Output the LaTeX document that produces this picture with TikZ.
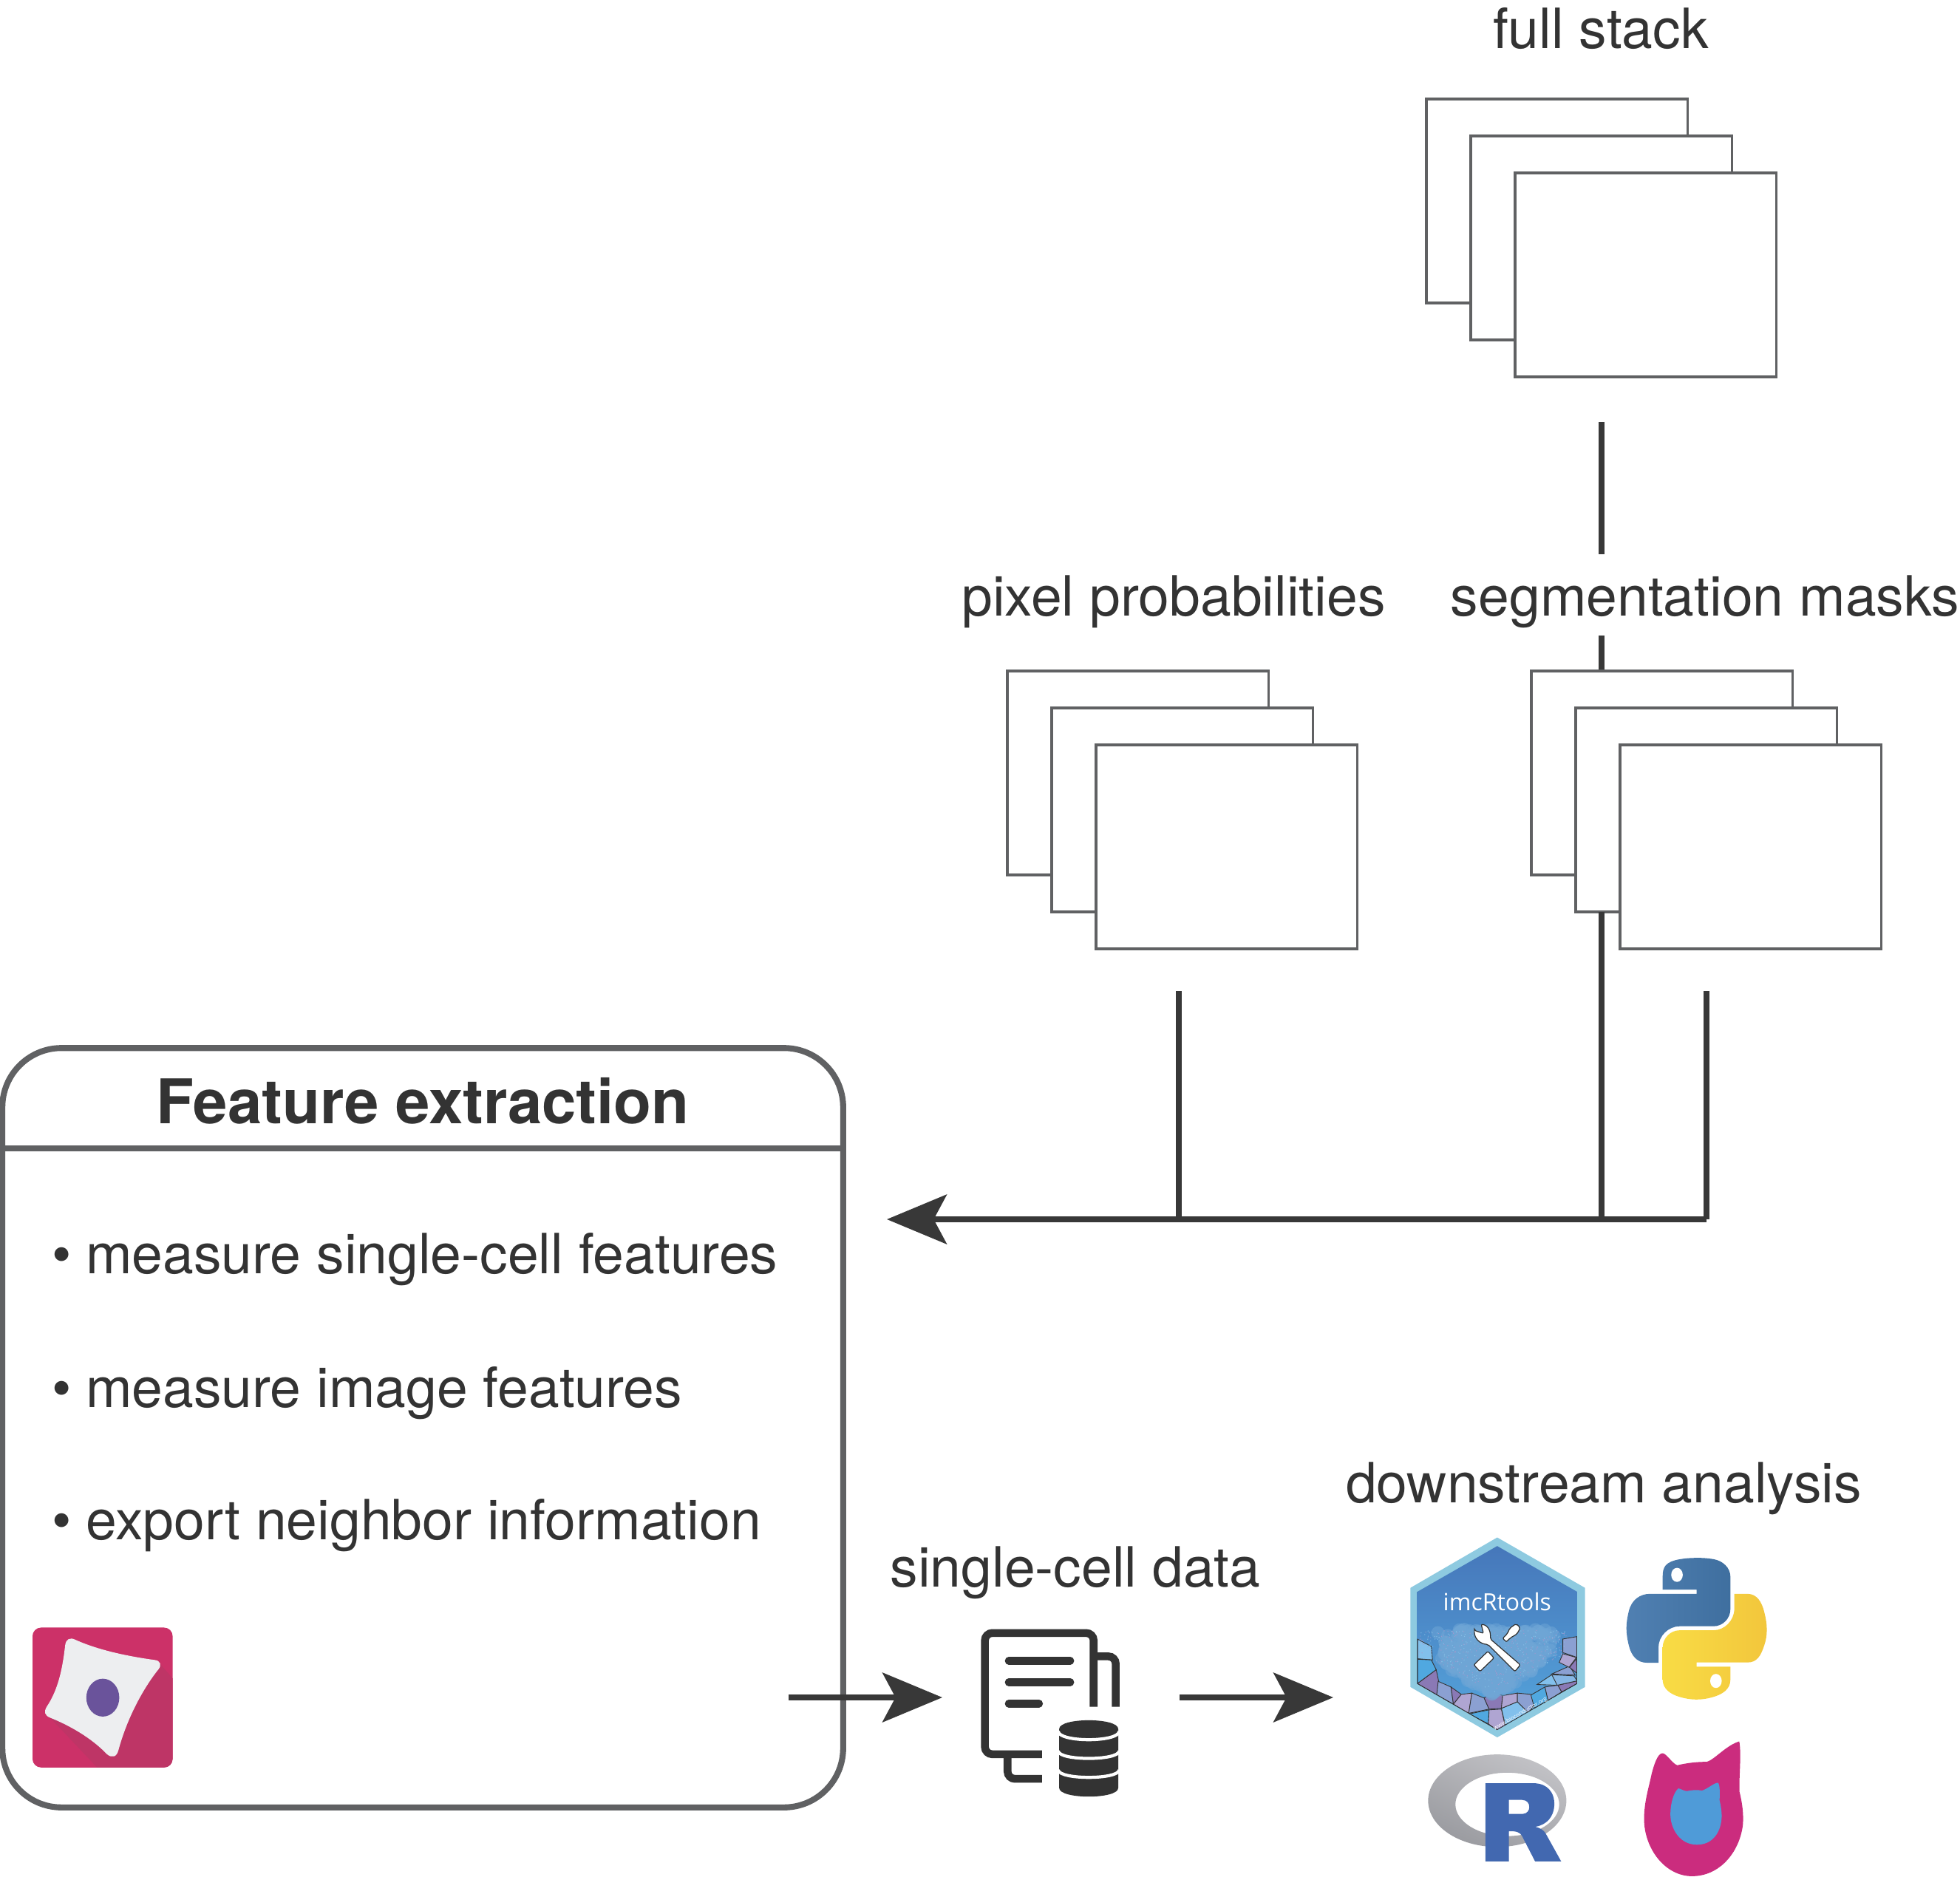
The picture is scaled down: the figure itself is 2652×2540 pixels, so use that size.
\documentclass[tikz,border=0pt]{standalone}
\usepackage{fontspec}
\setmainfont{TeX Gyre Heros}
\newfontfamily\hexfont{Open Sans}
\usetikzlibrary{arrows.meta}

\definecolor{inkgrey}{HTML}{333333}
\definecolor{linegrey}{HTML}{383838}
\definecolor{framegrey}{HTML}{606163}
\definecolor{cpmagenta}{HTML}{CC3168}
\definecolor{cpshadow}{HTML}{BE3566}
\definecolor{cpwhite}{HTML}{EDEEF0}
\definecolor{cppurple}{HTML}{6A539B}
\definecolor{hexrim}{HTML}{8ECAE0}
\definecolor{hextop}{HTML}{4677BA}
\definecolor{hexmid}{HTML}{4A82C0}
\definecolor{hexlow}{HTML}{55A6DD}
\definecolor{hexhaze}{HTML}{6FA6D6}
\definecolor{speckblue}{HTML}{8CC5EA}
\definecolor{specklilac}{HTML}{A998CE}
\definecolor{cellsky}{HTML}{82C0EC}
\definecolor{cellblue}{HTML}{50A8E0}
\definecolor{cellperi}{HTML}{8BA0D2}
\definecolor{cellpurple}{HTML}{8A79B5}
\definecolor{celllav}{HTML}{AFA5D2}
\definecolor{pyblueA}{HTML}{5080B2}
\definecolor{pyblueB}{HTML}{3F6F9F}
\definecolor{pyyellowA}{HTML}{F9DC45}
\definecolor{pyyellowB}{HTML}{F2C63C}
\definecolor{ringA}{HTML}{C2C2C6}
\definecolor{ringB}{HTML}{9A9BA0}
\definecolor{rblue}{HTML}{4268B0}
\definecolor{catpink}{HTML}{CB2C7E}
\definecolor{catblue}{HTML}{4F9BD8}

\tikzset{
  labeltext/.style={anchor=base, inner sep=0pt, text=inkgrey, font=\fontsize{21.35}{25}\selectfont},
  bullettext/.style={anchor=base west, inner sep=0pt, text=inkgrey, font=\fontsize{21.35}{25}\selectfont},
  stackcard/.style={anchor=north west, draw=framegrey, fill=white, line width=0.95pt,
    minimum width=3.53cm, minimum height=2.76cm, inner sep=0pt, outer sep=0pt},
  flowline/.style={draw=linegrey, line width=2.2pt},
  flowarrow/.style={flowline, -{Stealth[length=23pt, width=19pt, inset=5pt]}},
  iconline/.style={draw=inkgrey, line width=3pt},
  hexcell/.style={draw=inkgrey, line width=0.25pt}
}

\begin{document}
\begin{tikzpicture}[x=0.01cm, y=-0.01cm]
  \useasboundingbox (0,0) rectangle (2652,2540);

  % Named ends of the connectors
  \coordinate (fullout) at (2167,571);
  \coordinate (segin) at (2167,907);
  \coordinate (probout) at (1595,1341);
  \coordinate (probjoin) at (1595,1650);
  \coordinate (segout) at (2167,1234);
  \coordinate (segjoin) at (2167,1650);
  \coordinate (maskout) at (2309,1341);
  \coordinate (maskjoin) at (2309,1650);
  \coordinate (featurein) at (1200,1650);
  \coordinate (featureout) at (1067,2297);
  \coordinate (datain) at (1275,2297);
  \coordinate (dataout) at (1596,2297);
  \coordinate (analysisin) at (1804,2297);

  % Full stack
  \node[labeltext] (fulllabel) at (2166,66) {full stack};
  \node[stackcard] (fulla) at (1930,134) {};
  \node[stackcard] (fullb) at (1990,184) {};
  \node[stackcard] (fullc) at (2050,234) {};

  % Pixel probabilities
  \node[labeltext] (problabel) at (1588,833) {pixel probabilities};
  \node[stackcard] (proba) at (1363,908) {};
  \node[stackcard] (probb) at (1423,958) {};
  \node[stackcard] (probc) at (1483,1008) {};

  % Segmentation masks
  \draw[flowline] (fullout) -- (segin);
  \node[labeltext, fill=white, text height=23.6pt, text depth=7.7pt] (seglabel) at (2307,833) {segmentation masks};
  \node[stackcard] (sega) at (2072,908) {};
  \node[stackcard] (segb) at (2132,958) {};
  \node[stackcard] (segc) at (2192,1008) {};

  % Lines into the feature box
  \draw[flowline] (probout) -- (probjoin);
  \draw[flowline] (segout) -- (segjoin);
  \draw[flowline] (maskout) -- (maskjoin);
  \draw[flowarrow] (maskjoin) -- (featurein);

  % Feature box
  \node[draw=framegrey, line width=2.3pt, rounded corners=0.8cm, minimum width=11.37cm,
    minimum height=10.27cm, inner sep=0pt, outer sep=0pt] (feature) at (572,1932) {};
  \coordinate (titlerule) at (572,1554);
  \draw[draw=framegrey, line width=2pt] (feature.west |- titlerule) -- (feature.east |- titlerule);
  \node[labeltext, font=\fontsize{23.7}{28}\selectfont\bfseries] (featuretitle) at (572,1520) {Feature extraction};
  \node[bullettext] (cellfeat) at (70,1723) {\textbullet\hspace{5.5pt}measure single-cell features};
  \node[bullettext] (imagefeat) at (70,1904) {\textbullet\hspace{5.5pt}measure image features};
  \node[bullettext] (neighbor) at (70,2083) {\textbullet\hspace{5.5pt}export neighbor information};

  % Bottom row
  \draw[flowarrow] (featureout) -- (datain);
  \draw[flowarrow] (dataout) -- (analysisin);
  \node[labeltext] (datalabel) at (1455,2147) {single-cell data};
  \node[labeltext] (analysislabel) at (2170,2033) {downstream analysis};

  % Cell logo
  \begin{scope}[shift={(0,2151.5)}, x=0.00333cm, y=-0.00333cm]
    \begin{scope}
      \clip[rounded corners=0.117cm] (132,153) rectangle (702,722);
      \fill[cpmagenta] (132,153) rectangle (702,722);
      \fill[cpshadow] (650,300) -- (702,360) -- (702,722) -- (395,722) -- (195,510) -- cycle;
    \end{scope}
    \fill[cpwhite] (265,225) .. controls (268,200) and (285,192) .. (305,202)
      .. controls (400,245) and (520,270) .. (630,285)
      .. controls (652,288) and (658,305) .. (645,322)
      .. controls (590,390) and (520,510) .. (482,650)
      .. controls (475,680) and (455,685) .. (435,668)
      .. controls (370,600) and (280,550) .. (205,520)
      .. controls (180,510) and (178,495) .. (190,475)
      .. controls (240,400) and (255,310) .. (265,225) -- cycle;
    \fill[cppurple] (418,438) ellipse [x radius=67, y radius=77];
  \end{scope}

  % Data icon
  \begin{scope}[shift={(1310,2191.5)}, x=0.00333cm, y=-0.00333cm]
    \draw[iconline, rounded corners=0.1cm] (510,355) -- (510,55) -- (68,55) -- (68,548) -- (300,548);
    \draw[iconline, rounded corners=0.1cm] (525,150) -- (600,150) -- (600,355);
    \draw[iconline, rounded corners=0.1cm] (160,560) -- (160,648) -- (300,648);
    \draw[iconline, line cap=round] (165,168) -- (415,168);
    \draw[iconline, line cap=round] (165,255) -- (415,255);
    \draw[iconline, line cap=round] (165,342) -- (288,342);
    \fill[inkgrey] (370,445) .. controls (370,398) and (610,398) .. (610,445) -- (610,685)
      .. controls (610,732) and (370,732) .. (370,685) -- cycle;
    \draw[white, line width=1.2pt] (366,455) .. controls (370,500) and (610,500) .. (614,455);
    \draw[white, line width=1.2pt] (366,535) .. controls (370,575) and (610,575) .. (614,535);
    \draw[white, line width=1.2pt] (366,612) .. controls (370,652) and (610,652) .. (614,612);
  \end{scope}

  % imcRtools sticker
  \begin{scope}[shift={(1900,2071.5)}, x=0.00333cm, y=-0.00333cm]
    \fill[hexrim] (378,27) -- (735,232) -- (735,635) -- (378,840) -- (25,635) -- (25,232) -- cycle;
    \begin{scope}
      \clip (378,62) -- (703,248) -- (703,622) -- (378,810) -- (53,622) -- (53,248) -- cycle;
      \path[top color=hextop, middle color=hexmid, bottom color=hexlow]
        (53,62) rectangle (703,810);
      % Cells
      \filldraw[hexcell, fill=cellsky] (53,440) -- (110,470) -- (115,525) -- (53,520) -- cycle;
      \filldraw[hexcell, fill=cellblue] (53,522) -- (110,525) -- (130,565) -- (53,622) -- cycle;
      \filldraw[hexcell, fill=cellpurple] (53,622) -- (130,565) -- (140,612) -- (132,668) -- cycle;
      \filldraw[hexcell, fill=cellperi] (138,612) -- (190,635) -- (200,705) -- (132,668) -- cycle;
      \filldraw[hexcell, fill=cellpurple] (190,635) -- (232,665) -- (200,705) -- cycle;
      \filldraw[hexcell, fill=celllav] (232,665) -- (275,660) -- (262,745) -- (200,705) -- cycle;
      \filldraw[hexcell, fill=cellperi] (275,660) -- (325,680) -- (345,725) -- (262,742) -- cycle;
      \filldraw[hexcell, fill=cellblue] (262,745) -- (345,728) -- (342,785) -- cycle;
      \filldraw[hexcell, fill=cellpurple] (325,680) -- (360,655) -- (400,670) -- (395,722) -- (345,725) -- cycle;
      \filldraw[hexcell, fill=celllav] (345,728) -- (395,725) -- (412,800) -- (378,812) -- (342,785) -- cycle;
      \filldraw[hexcell, fill=cellsky] (395,722) -- (460,695) -- (505,740) -- (412,795) -- cycle;
      \filldraw[hexcell, fill=celllav] (400,670) -- (460,660) -- (460,695) -- (395,722) -- cycle;
      \filldraw[hexcell, fill=cellperi] (460,660) -- (515,665) -- (530,705) -- (505,740) -- (460,695) -- cycle;
      \filldraw[hexcell, fill=cellblue] (515,668) -- (572,635) -- (585,690) -- (530,722) -- cycle;
      \filldraw[hexcell, fill=cellperi] (572,635) -- (625,628) -- (640,655) -- (585,690) -- cycle;
      \filldraw[hexcell, fill=cellpurple] (625,628) -- (703,610) -- (703,622) -- (640,655) -- cycle;
      \filldraw[hexcell, fill=cellsky] (540,625) -- (600,585) -- (625,628) -- cycle;
      \filldraw[hexcell, fill=cellsky!70!cellperi] (600,585) -- (690,590) -- (703,610) -- (622,628) -- cycle;
      \filldraw[hexcell, fill=cellperi] (600,582) -- (672,550) -- (695,587) -- cycle;
      \filldraw[hexcell, fill=celllav] (645,500) -- (700,515) -- (670,555) -- (630,535) -- cycle;
      \filldraw[hexcell, fill=cellperi] (645,440) -- (703,430) -- (703,515) -- (645,495) -- cycle;
      \filldraw[hexcell, fill=cellpurple] (700,520) -- (703,580) -- (672,555) -- cycle;
      % Haze and speckles
      \pgfmathsetseed{7}
      \foreach \i in {1,...,500}{
        \pgfmathsetmacro{\sx}{120+500*(rnd+rnd)/2}
        \pgfmathsetmacro{\sy}{400+(270-0.6*abs(\sx-360))*rnd}
        \fill[hexhaze, opacity=0.5] (\sx,\sy) circle (0.09cm);
      }
      \foreach \i in {1,...,500}{
        \pgfmathsetmacro{\sx}{60+600*rnd}
        \pgfmathsetmacro{\sy}{405+(255-0.55*abs(\sx-360))*rnd}
        \ifodd\i
          \fill[specklilac, opacity=0.8] (\sx,\sy) circle (0.007cm);
        \else
          \fill[speckblue, opacity=0.8] (\sx,\sy) circle (0.007cm);
        \fi
      }
      % Bottom edge lines
      \draw[hexcell, line width=0.5pt] (53,440) -- (53,622) -- (378,810) -- (703,622) -- (703,430);
    \end{scope}
    \node[text=white, inner sep=0pt, anchor=base, font=\hexfont\fontsize{9.1}{11}\selectfont] (hextitle) at (378,325) {imcRtools};
    \node[text=white, inner sep=0pt, rotate=30, font=\hexfont\fontsize{2.2}{3}\selectfont] (hexurl) at (472,745) {www.bioconductor.org};
    % Wrench and screwdriver
    \filldraw[draw=inkgrey, fill=white, line width=0.35pt, rounded corners=0.02cm]
      (285,405) -- (322,417) -- (313,380) .. controls (345,385) and (352,415) .. (350,440)
      -- (472,545) -- (450,572) -- (340,462) .. controls (310,460) and (285,440) .. (285,405) -- cycle;
    \filldraw[draw=inkgrey, fill=white, line width=0.35pt, rounded corners=0.02cm]
      (400,437) -- (418,420) -- (430,395) -- (455,378) -- (472,395) -- (458,420) -- (432,435) -- (415,452) -- cycle;
    \filldraw[draw=inkgrey, fill=white, line width=0.35pt, rounded corners=0.02cm]
      (283,545) -- (340,490) -- (365,517) -- (308,572) -- cycle;
  \end{scope}

  % Python logo
  \begin{scope}[shift={(2201,2108)}, x=0.017cm, y=-0.017cm]
    \path[left color=pyblueA, right color=pyblueB] (54.9,0.1) .. controls (50.3,0.1) and (46,0.5) .. (42.1,1.2)
      .. controls (30.7,3.2) and (28.6,7.4) .. (28.6,15.1) -- (28.6,25.3) -- (55.6,25.3) -- (55.6,28.7)
      -- (18.5,28.7) .. controls (10.7,28.7) and (3.8,33.4) .. (1.7,42.4)
      .. controls (-0.8,52.7) and (-0.9,59.1) .. (1.7,69.8)
      .. controls (3.6,77.8) and (8.2,83.5) .. (16,83.5) -- (25.3,83.5) -- (25.3,71.2)
      .. controls (25.3,62.4) and (33,54.5) .. (42.1,54.5) -- (69,54.5)
      .. controls (76.5,54.5) and (82.5,48.3) .. (82.5,40.8) -- (82.5,15.1)
      .. controls (82.5,7.8) and (76.3,2.3) .. (69,1.1)
      .. controls (64.4,0.3) and (59.6,0) .. (54.9,0.1) -- cycle;
    \fill[white] (40,13.6) ellipse [x radius=4.6, y radius=5.6];
    \path[left color=pyyellowA, right color=pyyellowB] (85.6,28.7) -- (85.6,40.6)
      .. controls (85.6,49.9) and (77.8,57.7) .. (69,57.7) -- (42.1,57.7)
      .. controls (34.7,57.7) and (28.6,64) .. (28.6,71.4) -- (28.6,97)
      .. controls (28.6,104.3) and (34.9,108.6) .. (42.1,110.7)
      .. controls (50.7,113.2) and (58.9,113.7) .. (69,110.7)
      .. controls (75.8,108.7) and (82.5,104.8) .. (82.5,97) -- (82.5,86.7) -- (55.6,86.7) -- (55.6,83.3)
      -- (96,83.3) .. controls (103.8,83.3) and (106.7,77.8) .. (109.4,69.8)
      .. controls (112.2,61.5) and (112.1,53.6) .. (109.4,43)
      .. controls (107.5,35.4) and (103.8,28.7) .. (96,28.7) -- cycle;
    \fill[white] (71,98) ellipse [x radius=4.6, y radius=5.6];
  \end{scope}

  % R logo and cat logo
  \begin{scope}[shift={(1920,2361.5)}, x=0.00333cm, y=-0.00333cm]
    \path[even odd rule, top color=ringA, bottom color=ringB, shading angle=-25]
      (318,226) ellipse [x radius=281, y radius=188]
      (359,241) ellipse [x radius=211, y radius=129];
    \fill[rblue, even odd rule] (270,155) -- (465,155) .. controls (520,155) and (552,190) .. (550,245)
      .. controls (548,290) and (520,325) .. (472,332) .. controls (495,338) and (508,345) .. (518,365)
      -- (578,473) -- (472,473) -- (420,372) .. controls (410,352) and (395,350) .. (365,350)
      -- (365,473) -- (270,473) -- cycle
      (365,223) -- (420,223) .. controls (458,223) and (458,280) .. (420,280) -- (365,280) -- cycle;
    \fill[catpink] (990,33) .. controls (1005,33) and (1030,75) .. (1050,82)
      .. controls (1100,70) and (1140,68) .. (1170,68)
      .. controls (1200,60) and (1250,0) .. (1302,-15)
      .. controls (1312,40) and (1300,130) .. (1303,190)
      .. controls (1318,250) and (1320,300) .. (1316,330)
      .. controls (1300,440) and (1220,533) .. (1110,533)
      .. controls (1000,533) and (915,420) .. (915,300)
      .. controls (915,230) and (935,170) .. (945,120)
      .. controls (955,80) and (970,33) .. (990,33) -- cycle;
    \fill[catblue] (1055,176) .. controls (1065,178) and (1080,188) .. (1090,187)
      .. controls (1110,183) and (1130,180) .. (1150,185)
      .. controls (1170,180) and (1200,153) .. (1215,153)
      .. controls (1225,160) and (1222,200) .. (1222,225)
      .. controls (1228,250) and (1232,280) .. (1230,300)
      .. controls (1225,360) and (1190,405) .. (1130,405)
      .. controls (1060,405) and (1022,340) .. (1022,280)
      .. controls (1022,240) and (1035,190) .. (1055,176) -- cycle;
  \end{scope}
\end{tikzpicture}
\end{document}
